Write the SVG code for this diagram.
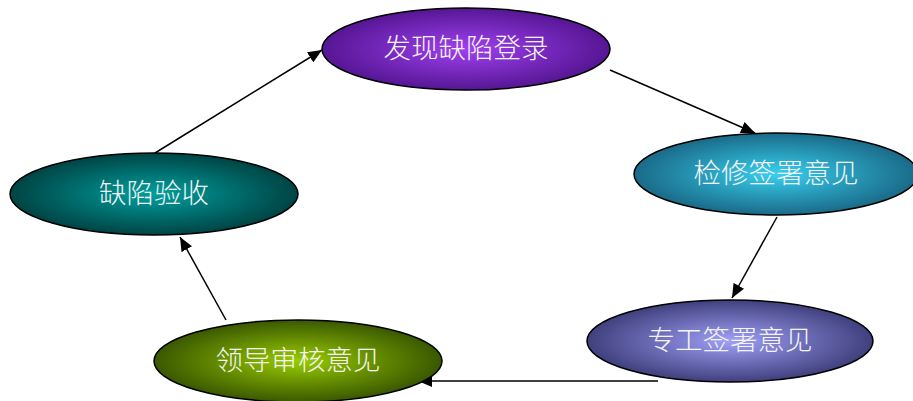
<svg xmlns="http://www.w3.org/2000/svg" width="913" height="401" viewBox="0 0 913 401">
<style>
.n{stroke:#000;stroke-width:1.5}
.t{font-family:"Noto Sans CJK SC","Noto Sans",sans-serif;font-size:27.5px;font-weight:300;fill:#f4f4f4;text-anchor:middle}
.c{stroke:#000;stroke-width:1.5;fill:none;marker-end:url(#ah)}
</style>
<defs>
<marker id="ah" viewBox="0 0 14 12" refX="14" refY="6" markerWidth="14" markerHeight="12" markerUnits="userSpaceOnUse" orient="auto"><path d="M0,0 L14,6 L0,12 z" fill="#000"/></marker>
<radialGradient id="g1"><stop offset="0" stop-color="#a040f0"/><stop offset="1" stop-color="#561694"/></radialGradient>
<radialGradient id="g2"><stop offset="0" stop-color="#38d0f0"/><stop offset="1" stop-color="#1a6a88"/></radialGradient>
<radialGradient id="g3"><stop offset="0" stop-color="#a0a0f8"/><stop offset="1" stop-color="#40407e"/></radialGradient>
<radialGradient id="g4"><stop offset="0" stop-color="#99cc00"/><stop offset="1" stop-color="#3a5800"/></radialGradient>
<radialGradient id="g5"><stop offset="0" stop-color="#00a0a0"/><stop offset="1" stop-color="#004444"/></radialGradient>
</defs>
<g id="connectors">
<line class="c" x1="155" y1="153" x2="322" y2="50"/>
<line class="c" x1="610" y1="70" x2="755" y2="133"/>
<line class="c" x1="777" y1="217" x2="732" y2="298"/>
<line class="c" x1="658" y1="381" x2="418" y2="381"/>
<line class="c" x1="226" y1="320" x2="180" y2="237"/>
</g>
<g id="n1"><ellipse class="n" cx="466" cy="49" rx="144" ry="41" fill="url(#g1)"/><text class="t" x="466" y="58">发现缺陷登录</text></g>
<g id="n2"><ellipse class="n" cx="776" cy="174" rx="142" ry="41" fill="url(#g2)"/><text class="t" x="776" y="183">检修签署意见</text></g>
<g id="n3"><ellipse class="n" cx="730" cy="341" rx="143" ry="41" fill="url(#g3)"/><text class="t" x="730" y="350">专工签署意见</text></g>
<g id="n4"><ellipse class="n" cx="298" cy="361" rx="144" ry="41" fill="url(#g4)"/><text class="t" x="298" y="370">领导审核意见</text></g>
<g id="n5"><ellipse class="n" cx="154" cy="194" rx="144" ry="41" fill="url(#g5)"/><text class="t" x="154" y="203">缺陷验收</text></g>
</svg>
